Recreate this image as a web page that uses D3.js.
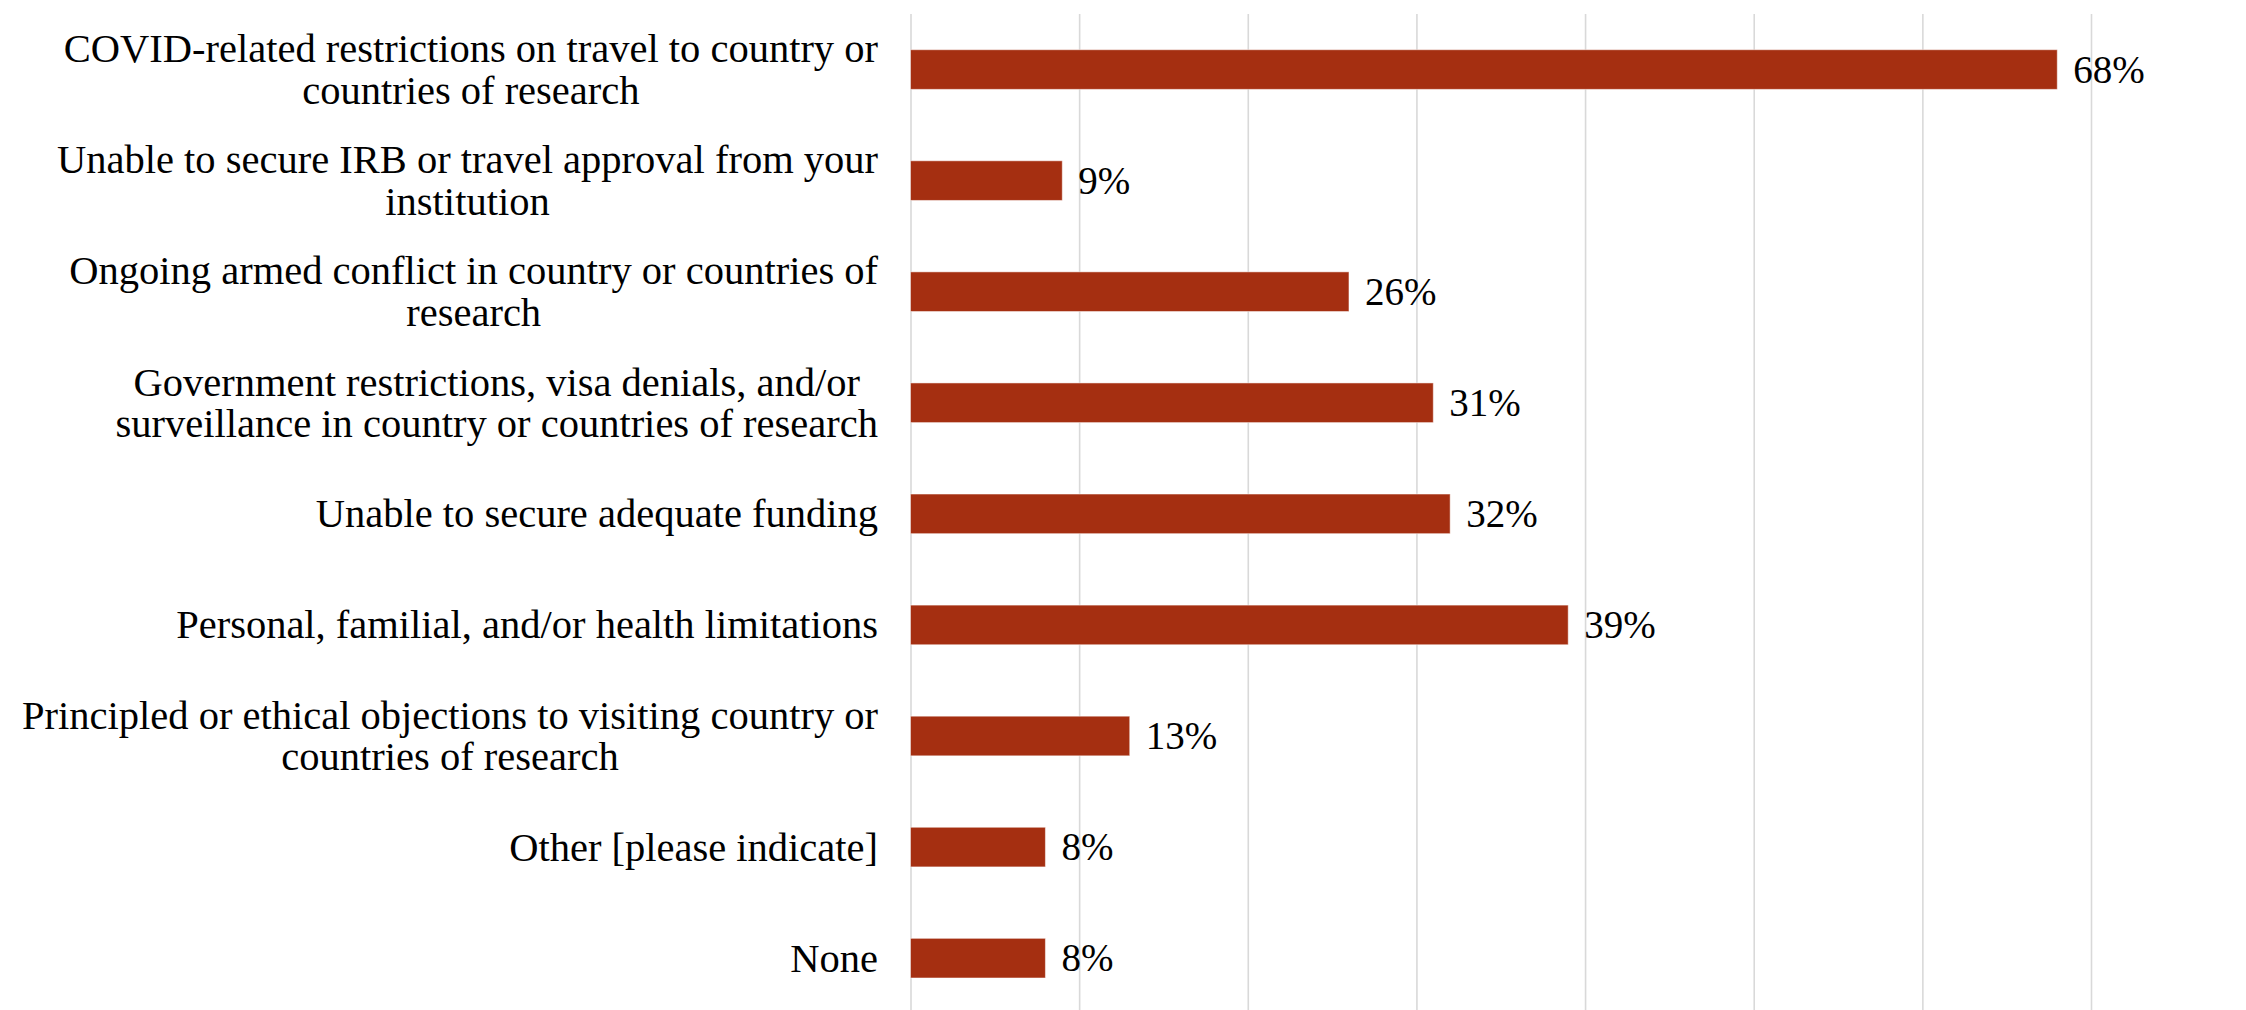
<!DOCTYPE html>
<html>
<head>
<meta charset="utf-8">
<script src="https://cdn.jsdelivr.net/npm/d3@7"></script>
<style>
  html, body { margin: 0; padding: 0; background: #ffffff; }
  svg { display: block; }
</style>
</head>
<body>
<svg id="chart" width="2246" height="1010"></svg>
<script>
// ---- data ----
const categories = [
  "COVID-related restrictions on travel to country or countries of research",
  "Unable to secure IRB or travel approval from your institution",
  "Ongoing armed conflict in country or countries of research",
  "Government restrictions, visa denials, and/or surveillance in country or countries of research",
  "Unable to secure adequate funding",
  "Personal, familial, and/or health limitations",
  "Principled or ethical objections to visiting country or countries of research",
  "Other [please indicate]",
  "None"
];
const categoryLines = [
  ["COVID-related restrictions on travel to country or", "countries of research"],
  ["Unable to secure IRB or travel approval from your", "institution"],
  ["Ongoing armed conflict in country or countries of", "research"],
  ["Government restrictions, visa denials, and/or", "surveillance in country or countries of research"],
  ["Unable to secure adequate funding"],
  ["Personal, familial, and/or health limitations"],
  ["Principled or ethical objections to visiting country or", "countries of research"],
  ["Other [please indicate]"],
  ["None"]
];
const values = [0.68, 0.09, 0.26, 0.31, 0.32, 0.39, 0.13, 0.08, 0.08];
const valueLabels = ["68%", "9%", "26%", "31%", "32%", "39%", "13%", "8%", "8%"];
const gridTicks = [0, 0.1, 0.2, 0.3, 0.4, 0.5, 0.6, 0.7];

// ---- layout ----
const plotLeft = 910.5, plotRight = 2091, plotTop = 14, plotBottom = 1013.7;
const labelRight = 878;
const fontFamily = "'Liberation Serif', 'Times New Roman', serif";
const fontSize = 40.5;
const valueFontSize = 39;
const lineH = 41.5;
const barColor = "#A52F11";

const svg = d3.select("#chart");

const x = d3.scaleLinear().domain([0, 0.7]).range([plotLeft, plotRight]);
const y = d3.scaleBand().domain(categories).range([plotTop, plotBottom])
  .paddingInner(0.643).paddingOuter(0.3215);

// gridlines
const grid = svg.append("g")
  .attr("transform", `translate(0,${plotTop})`)
  .call(d3.axisBottom(x).tickValues(gridTicks).tickSize(plotBottom - plotTop).tickFormat(""));
grid.select(".domain").remove();
grid.selectAll(".tick line").attr("stroke", "#d9d9d9").attr("stroke-width", 1.6);

// bars
svg.append("g").selectAll("rect")
  .data(categories)
  .join("rect")
  .attr("x", x(0))
  .attr("y", d => y(d))
  .attr("width", (d, i) => x(values[i]) - x(0))
  .attr("height", y.bandwidth())
  .attr("fill", barColor)
  .attr("stroke", "#ffffff")
  .attr("stroke-opacity", 0.5)
  .attr("stroke-width", 1);

// value labels
svg.append("g").selectAll("text")
  .data(categories)
  .join("text")
  .attr("x", (d, i) => x(values[i]) + 16)
  .attr("y", d => y(d) + y.bandwidth() / 2 + 13)
  .attr("font-family", fontFamily)
  .attr("font-size", valueFontSize)
  .attr("fill", "#000")
  .text((d, i) => valueLabels[i]);

// category labels (each block right-aligned, lines centred within block)
const labG = svg.append("g");
categories.forEach((cat, i) => {
  const lines = categoryLines[i];
  const cy = y(cat) + y.bandwidth() / 2;
  const g = labG.append("g");
  const texts = lines.map((ln, j) => g.append("text")
    .attr("font-family", fontFamily)
    .attr("font-size", fontSize)
    .attr("fill", "#000")
    .attr("text-anchor", "middle")
    .attr("y", cy + (j - (lines.length - 1) / 2) * lineH + 13.5)
    .text(ln));
  const maxW = d3.max(texts, t => t.node().getComputedTextLength());
  texts.forEach(t => t.attr("x", labelRight - maxW / 2));
});
</script>
</body>
</html>
